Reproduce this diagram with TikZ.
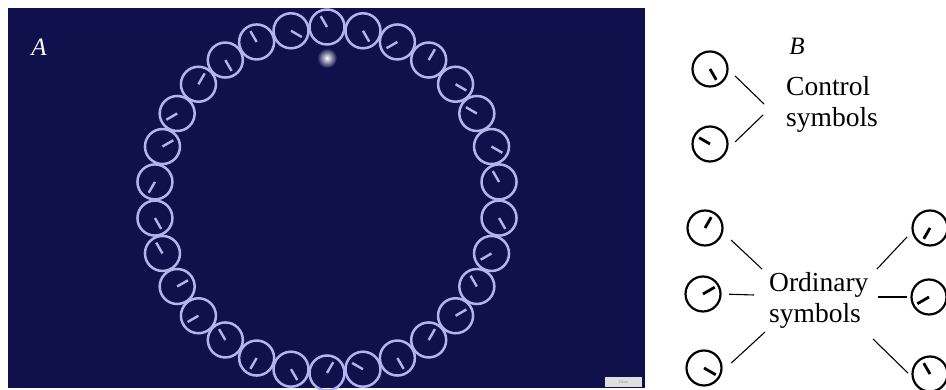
\documentclass[tikz,border=0pt]{standalone}
\usepackage{fontspec}
\setmainfont{Liberation Serif}
\usetikzlibrary{calc}

\definecolor{navyBg}{RGB}{16,16,76}
\definecolor{dialLav}{RGB}{180,180,236}

\begin{document}
\begin{tikzpicture}[
        x=1pt, y=1pt,
        every node/.style={inner sep=0pt},
        ringDial/.style={dialLav, line width=2.5pt},
        ringHand/.style={dialLav, line width=2.4pt},
        symDial/.style={circle, draw=black, line width=2.2pt, minimum size=35pt},
        symHand/.style={black, line width=2.8pt},
        pointerLine/.style={black, line width=1.1pt},
        legendText/.style={font=\fontsize{27.5}{31}\selectfont, align=left, anchor=base west},
        panelLabel/.style={font=\fontsize{25}{25}\selectfont\itshape},
        closeBtn/.style={fill=gray!25, minimum width=37pt, minimum height=10pt,
            font=\fontsize{4}{4}\selectfont, text=gray}
    ]
    \useasboundingbox (0,0) rectangle (946,390);

    % Panel A: ring of dials on the dark screen
    \fill[navyBg] (8,2) rectangle (645,382);
    \node[panelLabel, white] (labA) at (39,343) {A};

    \coordinate (ringC) at (327,190);
    \foreach \hand [count=\k from 0] in {120,-30,120,-60,60,210,30,240,-60,120,
                                         30,210,120,240,-60,60,150,-60,60,30,
                                         120,210,-60,120,-30,150,-30,60,210,-60} {
        \path (ringC) ++({90+12*\k}:173) coordinate (dial\k);
        \draw[ringDial] (dial\k) circle (17.5);
        \draw[ringHand] (dial\k) -- ++(\hand:12.5);
    }

    % fixation spot
    \shade[inner color=white, outer color=navyBg] (327,332) circle (10);

    \node[closeBtn] (close) at (623.5,8) {Close};

    % Panel B: legend
    \node[panelLabel] (labB) at (797,344) {B};

    \node[symDial] (ctlA) at (710,321) {};
    \node[symDial] (ctlB) at (710,246) {};
    \draw[symHand] (ctlA.center) -- ++(-60:12.5);
    \draw[symHand] (ctlB.center) -- ++(150:12.5);

    % base anchor of a two-line node sits on its last line
    \node[legendText] (ctlText) at (786,263.3) {Control\\symbols};
    \coordinate (ctlJoinA) at (764,286);
    \coordinate (ctlJoinB) at (763,275);
    \draw[pointerLine, shorten <=9pt] (ctlA.-2) -- (ctlJoinA);
    \draw[pointerLine, shorten <=10pt] (ctlB.-15) -- (ctlJoinB);

    % ordinary symbols, three each side
    \node[symDial] (ordL1) at (705,162) {};
    \node[symDial] (ordL2) at (703,96) {};
    \node[symDial] (ordL3) at (704,22) {};
    \node[symDial] (ordR1) at (930,162) {};
    \node[symDial] (ordR2) at (929,93) {};
    \node[symDial] (ordR3) at (930,16) {};
    \draw[symHand] (ordL1.center) -- ++(60:12.5);
    \draw[symHand] (ordL2.center) -- ++(30:13.5);
    \draw[symHand] (ordL3.center) -- ++(-30:13.5);
    \draw[symHand] (ordR1.center) -- ++(240:12.5);
    \draw[symHand] (ordR2.center) -- ++(210:13.5);
    \draw[symHand] (ordR3.center) -- ++(120:12.5);

    \node[legendText] (ordText) at (769,67.3) {Ordinary\\symbols};
    \coordinate (ordJoinL1) at (762,121);
    \coordinate (ordJoinL2) at (754,95);
    \coordinate (ordJoinL3) at (765,58);
    \coordinate (ordJoinR1) at (877,121);
    \coordinate (ordJoinR2) at (878,93);
    \coordinate (ordJoinR3) at (873,51);
    \draw[pointerLine, shorten <=11pt] (ordL1.-14) -- (ordJoinL1);
    \draw[pointerLine, shorten <=7.5pt] (ordL2.east) -- (ordJoinL2);
    \draw[pointerLine, shorten <=12pt] (ordL3.-10) -- (ordJoinL3);
    \draw[pointerLine, shorten <=7pt] (ordR1.192) -- (ordJoinR1);
    \draw[pointerLine, shorten <=3.5pt] (ordR2.west) -- (ordJoinR2);
    \draw[pointerLine, shorten <=5pt] (ordR3.188) -- (ordJoinR3);

\end{tikzpicture}
\end{document}
